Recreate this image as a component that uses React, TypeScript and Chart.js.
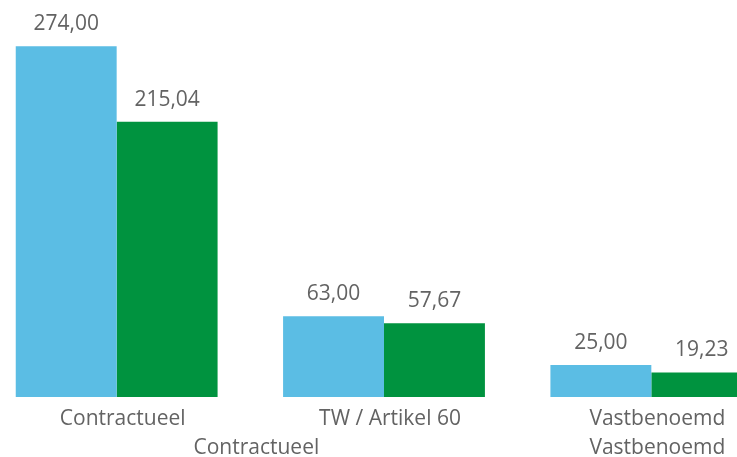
import React, { useEffect, useRef } from "react";
import { Chart, registerables } from "chart.js";

Chart.register(...registerables);

const categories = ["Contractueel", "TW / Artikel 60", "Vastbenoemd"];
const groupLabels = ["Contractueel", "Vastbenoemd"];
const groupSpans = [2, 1];
const seriesA = [274.0, 63.0, 25.0];
const seriesB = [215.04, 57.67, 19.23];

const BLUE = "#5BBDE4";
const GREEN = "#00933F";
const TEXT = "#636363";
const FONT = "'Open Sans', 'Noto Sans', sans-serif";
const CANVAS_H = 457;

const fmt = (v: number) => v.toFixed(2).replace(".", ",");

const valueLabels = {
  id: "valueLabels",
  afterDatasetsDraw(chart: any) {
    const ctx = chart.ctx;
    ctx.save();
    ctx.font = `21px ${FONT}`;
    ctx.fillStyle = TEXT;
    ctx.textAlign = "center";
    ctx.textBaseline = "alphabetic";
    chart.data.datasets.forEach((ds: any, di: number) => {
      const meta = chart.getDatasetMeta(di);
      meta.data.forEach((bar: any, i: number) => {
        ctx.fillText(fmt(ds.data[i]), bar.x, bar.y - 16);
      });
    });
    ctx.restore();
  },
};

const groupAxis = {
  id: "groupAxis",
  afterDraw(chart: any) {
    const ctx = chart.ctx;
    const xs = chart.scales.x;
    const y = chart.chartArea.bottom + 51;
    ctx.save();
    ctx.font = `21px ${FONT}`;
    ctx.fillStyle = TEXT;
    ctx.textAlign = "center";
    ctx.textBaseline = "middle";
    let start = 0;
    groupSpans.forEach((span, gi) => {
      const first = xs.getPixelForValue(start);
      const last = xs.getPixelForValue(start + span - 1);
      ctx.fillText(groupLabels[gi], (first + last) / 2 + 6, y);
      start += span;
    });
    ctx.restore();
  },
};

export default function App() {
  const ref = useRef<HTMLCanvasElement | null>(null);
  useEffect(() => {
    if (!ref.current) return;
    const chart = new Chart(ref.current, {
      type: "bar",
      data: {
        labels: categories,
        datasets: [
          { data: seriesA, backgroundColor: BLUE, borderWidth: 0 },
          { data: seriesB, backgroundColor: GREEN, borderWidth: 0 },
        ],
      },
      options: {
        responsive: false,
        animation: false,
        devicePixelRatio: 1,
        layout: { padding: { top: 13, left: 0, right: 0, bottom: 16 } },
        datasets: { bar: { categoryPercentage: 0.755, barPercentage: 1.0 } },
        plugins: { legend: { display: false }, tooltip: { enabled: false } },
        scales: {
          y: { display: false, min: 0, max: 300 },
          x: {
            grid: { display: false, drawTicks: false },
            border: { display: false },
            ticks: {
              color: TEXT,
              font: { family: FONT, size: 21, lineHeight: 1.0 },
              padding: 11.5,
              labelOffset: 6,
              maxRotation: 0,
              autoSkip: false,
            },
          },
        },
      } as any,
      plugins: [valueLabels, groupAxis],
    });
    return () => chart.destroy();
  }, []);
  return (
    <div style={{ position: "fixed", left: 0, top: 0, width: 737, height: 457, overflow: "hidden", background: "#fff" }}>
      <div style={{ position: "absolute", left: -17, top: 0, width: 802, height: CANVAS_H }}>
        <canvas ref={ref} width={802} height={CANVAS_H} style={{ display: "block" }} />
      </div>
    </div>
  );
}
